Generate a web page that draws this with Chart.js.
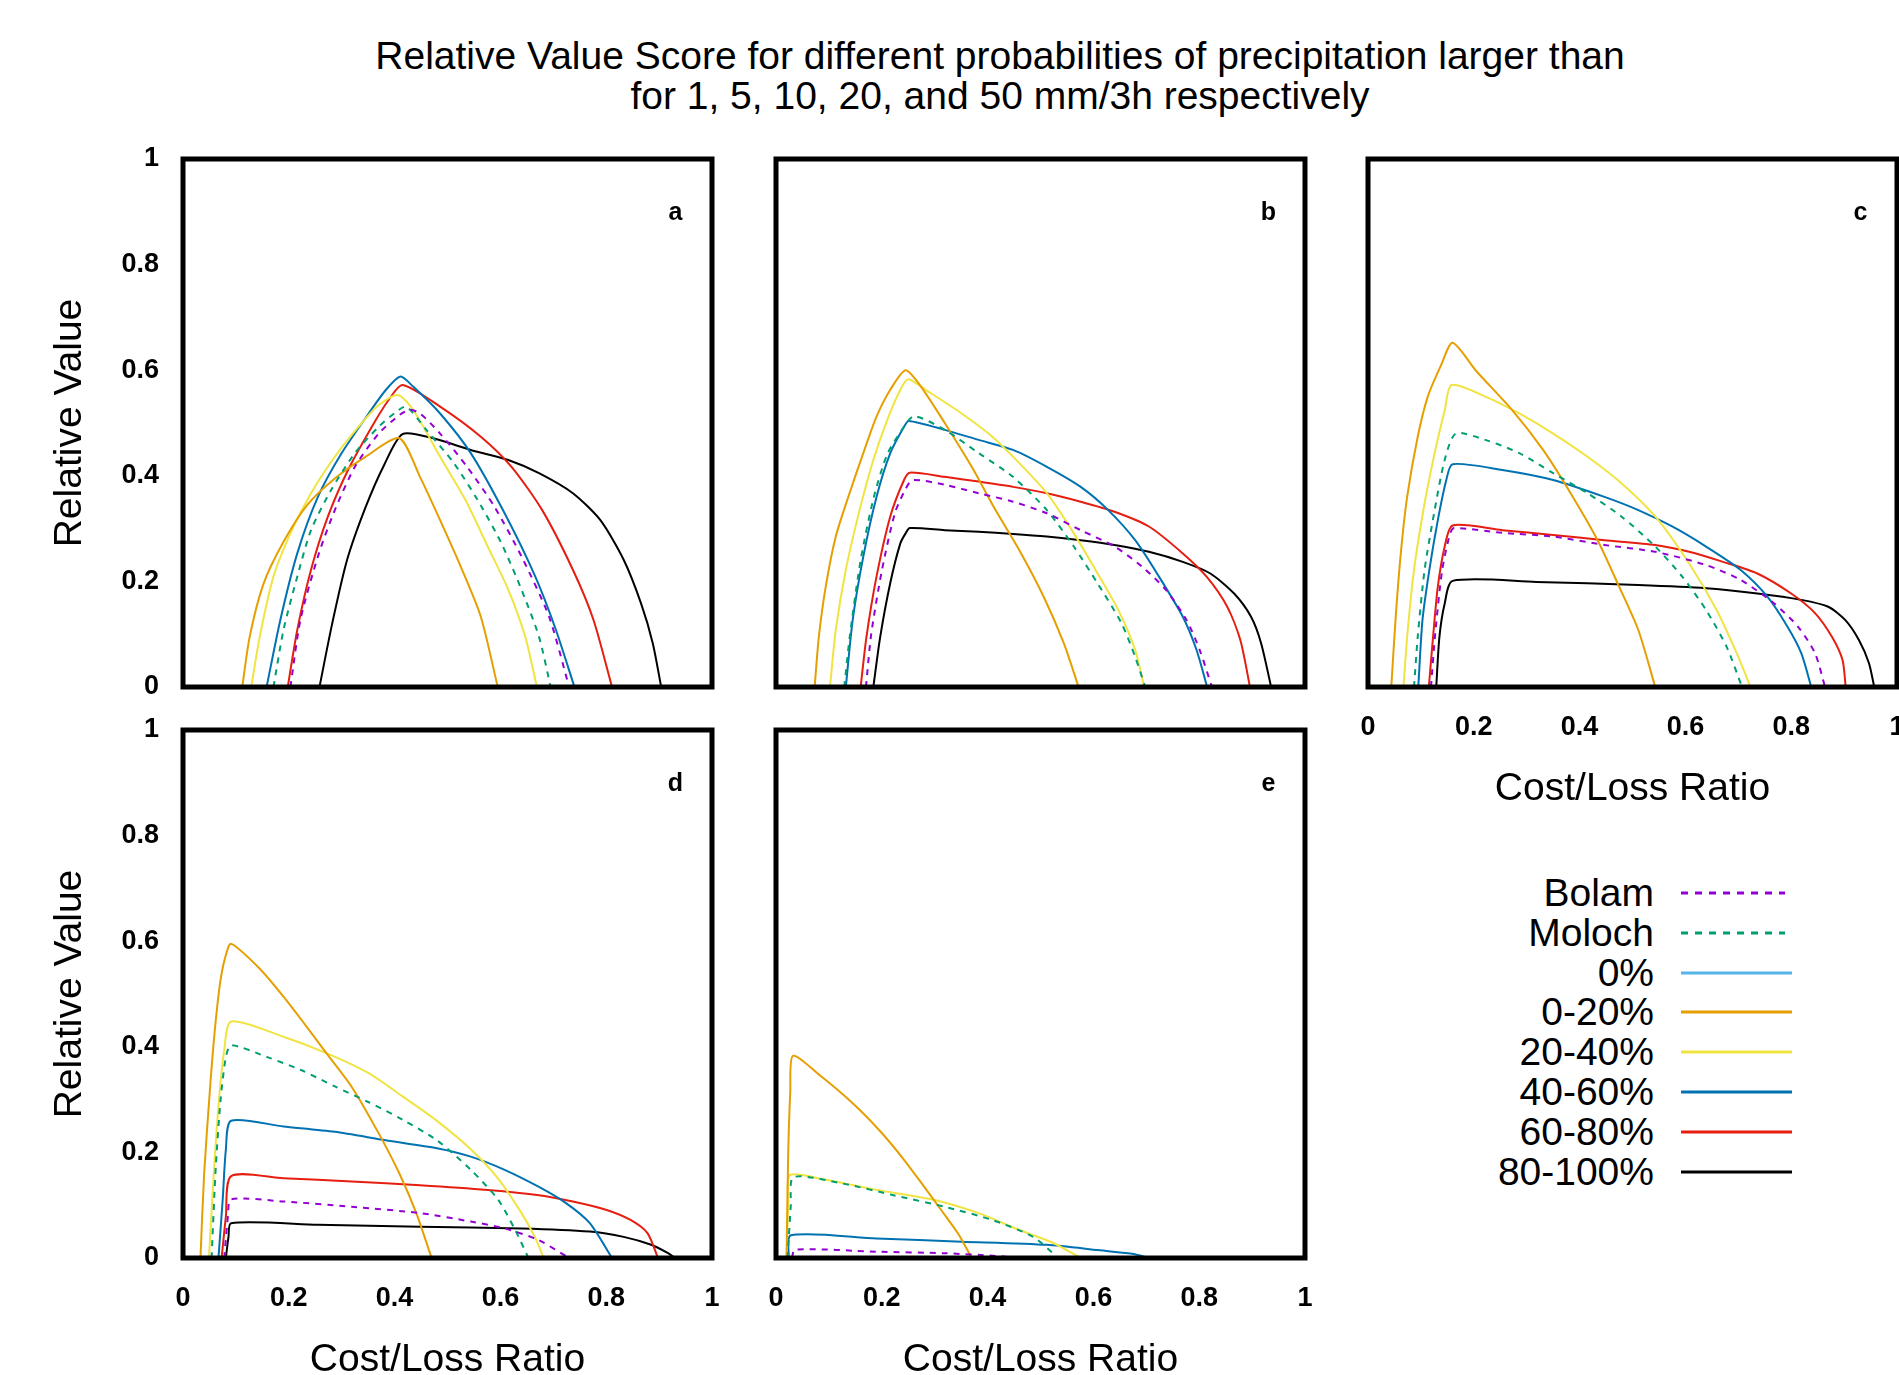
<!DOCTYPE html>
<html>
<head>
<meta charset="utf-8">
<script src="https://cdn.jsdelivr.net/npm/chart.js@4"></script>
<style>
  html, body { margin: 0; padding: 0; background: #fff; }
  body {
    width: 1899px; height: 1375px; overflow: hidden; position: relative;
    font-family: "Liberation Sans", Arial, Helvetica, sans-serif; color: #000;
  }
  #title {
    position: absolute; left: 300px; width: 1400px; top: 36px;
    text-align: center; font-size: 39px; line-height: 40px;
  }
  .legText {
    position: absolute; width: 300px; height: 40px; line-height: 40px;
    text-align: right; font-size: 39px; white-space: nowrap;
  }
  canvas { position: absolute; }
</style>
</head>
<body>
<div id="title">Relative Value Score for different probabilities of precipitation larger than<br>for 1, 5, 10, 20, and 50 mm/3h respectively</div>
<script>
// series (same in every panel)
const seriesKeys = ["bolam", "moloch", "p0", "p0_20", "p20_40", "p40_60", "p60_80", "p80_100"];
const seriesNames = ["Bolam", "Moloch", "0%", "0-20%", "20-40%", "40-60%", "60-80%", "80-100%"];
const seriesColors = ["#9400d3", "#009e73", "#56b4e9", "#e69f00", "#f0e442", "#0072b2", "#e51e10", "#000000"];
const seriesDashed = [true, true, false, false, false, false, false, false];

const tickValues = [0, 0.2, 0.4, 0.6, 0.8, 1];
const panelLetters = ["a", "b", "c", "d", "e"];

// values: [cost/loss ratio, relative value]
// panel a (1 mm/3h)
const a_bolam = [[0.203,0],[0.222,0.127],[0.255,0.247],[0.287,0.335],[0.325,0.417],[0.370,0.480],[0.409,0.515],[0.428,0.525],[0.448,0.518],[0.486,0.480],[0.537,0.417],[0.589,0.341],[0.640,0.247],[0.692,0.133],[0.730,0]];
const a_moloch = [[0.171,0],[0.190,0.108],[0.216,0.209],[0.242,0.297],[0.280,0.373],[0.325,0.443],[0.370,0.493],[0.403,0.521],[0.422,0.531],[0.460,0.487],[0.512,0.424],[0.557,0.354],[0.602,0.272],[0.640,0.184],[0.673,0.095],[0.695,0]];
const a_p0 = [];
const a_p0_20 = [[0.112,0],[0.126,0.095],[0.152,0.195],[0.190,0.275],[0.235,0.345],[0.287,0.395],[0.345,0.436],[0.409,0.471],[0.448,0.398],[0.486,0.316],[0.525,0.228],[0.563,0.133],[0.595,0]];
const a_p20_40 = [[0.129,0],[0.145,0.095],[0.171,0.209],[0.203,0.291],[0.242,0.367],[0.287,0.436],[0.332,0.493],[0.370,0.534],[0.406,0.553],[0.435,0.525],[0.486,0.436],[0.534,0.354],[0.576,0.266],[0.615,0.184],[0.647,0.095],[0.669,0]];
const a_p40_60 = [[0.158,0],[0.184,0.127],[0.216,0.253],[0.255,0.360],[0.300,0.443],[0.351,0.518],[0.383,0.562],[0.411,0.588],[0.435,0.569],[0.486,0.518],[0.544,0.443],[0.608,0.329],[0.666,0.209],[0.705,0.108],[0.740,0]];
const a_p60_80 = [[0.198,0],[0.216,0.108],[0.242,0.222],[0.274,0.323],[0.312,0.411],[0.357,0.493],[0.389,0.544],[0.415,0.572],[0.486,0.531],[0.563,0.474],[0.621,0.417],[0.679,0.335],[0.737,0.222],[0.776,0.127],[0.811,0]];
const a_p80_100 = [[0.258,0],[0.282,0.120],[0.310,0.240],[0.345,0.340],[0.380,0.420],[0.415,0.479],[0.473,0.471],[0.544,0.449],[0.615,0.430],[0.673,0.405],[0.737,0.367],[0.789,0.316],[0.833,0.241],[0.866,0.158],[0.888,0.083],[0.904,0]];

// panel b (5 mm/3h)
const b_bolam = [[0.170,0],[0.180,0.100],[0.200,0.220],[0.225,0.330],[0.245,0.375],[0.258,0.392],[0.319,0.383],[0.383,0.367],[0.448,0.351],[0.512,0.329],[0.576,0.297],[0.640,0.266],[0.692,0.228],[0.737,0.184],[0.776,0.127],[0.801,0.070],[0.824,0]];
const b_moloch = [[0.129,0],[0.140,0.100],[0.160,0.240],[0.185,0.360],[0.210,0.440],[0.240,0.490],[0.261,0.513],[0.319,0.487],[0.383,0.443],[0.448,0.398],[0.512,0.335],[0.563,0.266],[0.608,0.196],[0.653,0.121],[0.679,0.057],[0.698,0]];
const b_p0 = [];
const b_p0_20 = [[0.073,0],[0.081,0.095],[0.094,0.190],[0.113,0.285],[0.139,0.367],[0.165,0.443],[0.190,0.512],[0.216,0.563],[0.245,0.600],[0.274,0.569],[0.319,0.500],[0.370,0.417],[0.415,0.335],[0.460,0.259],[0.506,0.171],[0.544,0.083],[0.572,0]];
const b_p20_40 = [[0.102,0],[0.113,0.108],[0.132,0.222],[0.158,0.335],[0.184,0.430],[0.210,0.505],[0.235,0.563],[0.250,0.583],[0.287,0.560],[0.351,0.518],[0.409,0.474],[0.460,0.424],[0.512,0.367],[0.563,0.291],[0.608,0.215],[0.647,0.146],[0.679,0.070],[0.696,0]];
const b_p40_60 = [[0.132,0],[0.145,0.127],[0.165,0.247],[0.190,0.360],[0.216,0.443],[0.242,0.493],[0.251,0.504],[0.319,0.487],[0.383,0.468],[0.448,0.449],[0.512,0.417],[0.576,0.379],[0.628,0.335],[0.679,0.278],[0.724,0.209],[0.769,0.133],[0.795,0.070],[0.815,0]];
const b_p60_80 = [[0.160,0],[0.171,0.095],[0.190,0.209],[0.216,0.323],[0.242,0.392],[0.253,0.406],[0.319,0.398],[0.383,0.389],[0.448,0.379],[0.512,0.367],[0.576,0.351],[0.640,0.332],[0.705,0.304],[0.769,0.253],[0.814,0.209],[0.853,0.152],[0.878,0.088],[0.896,0]];
const b_p80_100 = [[0.184,0],[0.197,0.095],[0.216,0.197],[0.235,0.272],[0.245,0.291],[0.253,0.301],[0.319,0.297],[0.383,0.294],[0.448,0.290],[0.512,0.285],[0.576,0.278],[0.640,0.269],[0.705,0.256],[0.769,0.237],[0.821,0.215],[0.866,0.177],[0.898,0.133],[0.917,0.083],[0.936,0]];

// panel c (10 mm/3h)
const c_bolam = [[0.119,0],[0.127,0.100],[0.140,0.220],[0.155,0.290],[0.163,0.301],[0.254,0.292],[0.350,0.285],[0.447,0.269],[0.543,0.256],[0.639,0.231],[0.704,0.203],[0.768,0.158],[0.813,0.114],[0.845,0.064],[0.864,0]];
const c_moloch = [[0.087,0],[0.094,0.095],[0.107,0.222],[0.126,0.335],[0.145,0.430],[0.166,0.480],[0.222,0.468],[0.286,0.443],[0.350,0.405],[0.415,0.367],[0.479,0.323],[0.543,0.266],[0.594,0.209],[0.639,0.146],[0.678,0.076],[0.707,0]];
const c_p0 = [];
const c_p0_20 = [[0.044,0],[0.052,0.127],[0.062,0.253],[0.074,0.360],[0.094,0.474],[0.113,0.550],[0.138,0.609],[0.160,0.652],[0.205,0.598],[0.273,0.524],[0.331,0.449],[0.383,0.367],[0.434,0.278],[0.472,0.196],[0.511,0.108],[0.543,0]];
const c_p20_40 = [[0.067,0],[0.074,0.095],[0.087,0.222],[0.107,0.348],[0.126,0.443],[0.145,0.524],[0.158,0.572],[0.222,0.550],[0.286,0.518],[0.350,0.480],[0.415,0.436],[0.479,0.386],[0.543,0.323],[0.607,0.234],[0.659,0.146],[0.697,0.064],[0.723,0]];
const c_p40_60 = [[0.095,0],[0.103,0.127],[0.116,0.222],[0.132,0.316],[0.148,0.392],[0.160,0.422],[0.254,0.411],[0.350,0.392],[0.447,0.360],[0.511,0.335],[0.575,0.304],[0.639,0.266],[0.704,0.222],[0.755,0.171],[0.793,0.114],[0.819,0.064],[0.838,0]];
const c_p60_80 = [[0.115,0],[0.123,0.095],[0.132,0.190],[0.145,0.266],[0.160,0.306],[0.254,0.297],[0.350,0.288],[0.447,0.278],[0.543,0.269],[0.607,0.256],[0.671,0.237],[0.736,0.215],[0.800,0.177],[0.845,0.140],[0.877,0.095],[0.897,0.051],[0.903,0]];
const c_p80_100 = [[0.129,0],[0.135,0.095],[0.145,0.158],[0.160,0.201],[0.318,0.199],[0.511,0.193],[0.639,0.187],[0.736,0.177],[0.819,0.165],[0.870,0.152],[0.902,0.127],[0.928,0.089],[0.947,0.045],[0.957,0]];

// panel d (20 mm/3h)
const d_bolam = [[0.078,0],[0.085,0.080],[0.091,0.111],[0.190,0.107],[0.319,0.097],[0.448,0.085],[0.544,0.069],[0.608,0.056],[0.672,0.034],[0.730,0]];
const d_moloch = [[0.054,0],[0.062,0.173],[0.071,0.299],[0.081,0.380],[0.091,0.403],[0.158,0.381],[0.223,0.356],[0.287,0.325],[0.351,0.295],[0.415,0.262],[0.480,0.223],[0.544,0.167],[0.596,0.110],[0.628,0.053],[0.653,0]];
const d_p0 = [];
const d_p0_20 = [[0.033,0],[0.040,0.160],[0.051,0.320],[0.060,0.430],[0.070,0.520],[0.080,0.570],[0.091,0.595],[0.146,0.547],[0.190,0.495],[0.230,0.443],[0.271,0.388],[0.319,0.324],[0.370,0.236],[0.409,0.160],[0.441,0.085],[0.470,0]];
const d_p20_40 = [[0.049,0],[0.059,0.173],[0.068,0.299],[0.078,0.394],[0.091,0.448],[0.190,0.419],[0.271,0.388],[0.351,0.350],[0.415,0.306],[0.477,0.262],[0.544,0.206],[0.596,0.150],[0.640,0.085],[0.665,0.040],[0.682,0]];
const d_p40_60 = [[0.067,0],[0.075,0.110],[0.081,0.205],[0.091,0.260],[0.190,0.249],[0.287,0.239],[0.383,0.223],[0.480,0.208],[0.544,0.192],[0.608,0.167],[0.672,0.135],[0.724,0.104],[0.769,0.066],[0.811,0]];
const d_p60_80 = [[0.073,0],[0.081,0.078],[0.091,0.155],[0.190,0.151],[0.319,0.145],[0.448,0.138],[0.576,0.129],[0.673,0.119],[0.737,0.107],[0.801,0.091],[0.846,0.072],[0.878,0.047],[0.898,0]];
const d_p80_100 = [[0.081,0],[0.086,0.040],[0.091,0.066],[0.255,0.063],[0.448,0.059],[0.640,0.056],[0.769,0.050],[0.833,0.040],[0.885,0.025],[0.917,0.009],[0.930,0]];

// panel e (50 mm/3h)
const e_bolam = [[0.030,0],[0.036,0.016],[0.190,0.012],[0.319,0.009],[0.415,0.004],[0.460,0]];
const e_moloch = [[0.022,0],[0.028,0.100],[0.033,0.153],[0.126,0.141],[0.222,0.119],[0.319,0.097],[0.409,0.072],[0.486,0.040],[0.534,0]];
const e_p0 = [];
const e_p0_20 = [[0.020,0],[0.023,0.195],[0.027,0.315],[0.032,0.383],[0.084,0.345],[0.145,0.293],[0.197,0.240],[0.242,0.186],[0.280,0.135],[0.313,0.090],[0.345,0.045],[0.370,0]];
const e_p20_40 = [[0.020,0],[0.023,0.100],[0.026,0.157],[0.094,0.148],[0.190,0.129],[0.300,0.110],[0.383,0.085],[0.460,0.053],[0.525,0.028],[0.576,0]];
const e_p40_60 = [[0.024,0],[0.028,0.043],[0.190,0.037],[0.351,0.031],[0.512,0.025],[0.609,0.015],[0.673,0.008],[0.705,0]];
const e_p60_80 = [];
const e_p80_100 = [];

const panelData = [
  {bolam: a_bolam, moloch: a_moloch, p0: a_p0, p0_20: a_p0_20, p20_40: a_p20_40, p40_60: a_p40_60, p60_80: a_p60_80, p80_100: a_p80_100},
  {bolam: b_bolam, moloch: b_moloch, p0: b_p0, p0_20: b_p0_20, p20_40: b_p20_40, p40_60: b_p40_60, p60_80: b_p60_80, p80_100: b_p80_100},
  {bolam: c_bolam, moloch: c_moloch, p0: c_p0, p0_20: c_p0_20, p20_40: c_p20_40, p40_60: c_p40_60, p60_80: c_p60_80, p80_100: c_p80_100},
  {bolam: d_bolam, moloch: d_moloch, p0: d_p0, p0_20: d_p0_20, p20_40: d_p20_40, p40_60: d_p40_60, p60_80: d_p60_80, p80_100: d_p80_100},
  {bolam: e_bolam, moloch: e_moloch, p0: e_p0, p0_20: e_p0_20, p20_40: e_p20_40, p40_60: e_p40_60, p60_80: e_p60_80, p80_100: e_p80_100},
];

// layout (page pixels)
const FONT = '"Liberation Sans", Arial, Helvetica, sans-serif';
const BOX_W = 529, BOX_H = 528;
// top/right padding must be larger than what the tick labels ask for
const AX_W = 150, AX_H = 140, PAD_T = 50, PAD_R = 45;
const CW = AX_W + BOX_W + PAD_R, CH = PAD_T + BOX_H + AX_H;
const boxes = [
  {left: 183, top: 159, yLab: true, xLab: false},
  {left: 776, top: 159, yLab: false, xLab: false},
  {left: 1368, top: 159, yLab: false, xLab: true},
  {left: 183, top: 730, yLab: true, xLab: true},
  {left: 776, top: 730, yLab: false, xLab: true},
];

Chart.defaults.color = "#000";

// frame round the plot area and the panel letter
const framePlugin = {
  id: "frame",
  afterDatasetsDraw(chart, args, opts) {
    const {ctx, chartArea: a, scales} = chart;
    ctx.save();
    ctx.lineWidth = 5;
    ctx.strokeStyle = "#000";
    ctx.strokeRect(a.left, a.top, a.right - a.left, a.bottom - a.top);
    ctx.fillStyle = "#000";
    ctx.font = "bold 25px " + FONT;
    ctx.textAlign = "center";
    ctx.textBaseline = "middle";
    ctx.fillText(opts.letter, scales.x.getPixelForValue(0.931), scales.y.getPixelForValue(0.898));
    ctx.restore();
  }
};

function makeDatasets(set) {
  return seriesKeys.map((k, i) => ({
    label: seriesNames[i],
    data: set[k].map(p => ({x: p[0], y: p[1]})),
    borderColor: seriesColors[i],
    backgroundColor: seriesColors[i],
    borderWidth: 2,
    borderDash: seriesDashed[i] ? [6, 6] : [],
    pointRadius: 0,
    tension: 0.25,
    fill: false,
  }));
}

const tickFont = {family: FONT, size: 27, weight: "bold"};
const titleFont = {family: FONT, size: 39};
const fmt = v => String(+Number(v).toFixed(1));

boxes.forEach((b, i) => {
  const cv = document.createElement("canvas");
  cv.width = CW;
  cv.height = CH;
  cv.style.left = (b.left - AX_W) + "px";
  cv.style.top = (b.top - PAD_T) + "px";
  cv.style.width = CW + "px";
  cv.style.height = CH + "px";
  document.body.appendChild(cv);

  new Chart(cv, {
    type: "line",
    data: {datasets: makeDatasets(panelData[i])},
    plugins: [framePlugin],
    options: {
      responsive: false,
      animation: false,
      devicePixelRatio: 1,
      layout: {padding: {top: PAD_T, right: PAD_R, left: 0, bottom: 0}},
      plugins: {
        legend: {display: false},
        tooltip: {enabled: false},
        frame: {letter: panelLetters[i]},
      },
      scales: {
        x: {
          type: "linear", position: "bottom", min: 0, max: 1,
          afterBuildTicks: s => { s.ticks = tickValues.map(v => ({value: v})); },
          afterFit: s => { s.height = AX_H; },
          grid: {display: false, drawTicks: false},
          border: {display: false},
          ticks: {display: b.xLab, padding: 24, font: tickFont, maxRotation: 0, autoSkip: false, callback: fmt},
          title: {display: b.xLab, text: "Cost/Loss Ratio", font: titleFont, padding: {top: 0, bottom: 14}},
        },
        y: {
          type: "linear", position: "left", min: 0, max: 1,
          afterBuildTicks: s => { s.ticks = tickValues.map(v => ({value: v})); },
          afterFit: s => { s.width = AX_W; },
          grid: {display: false, drawTicks: false},
          border: {display: false},
          ticks: {display: b.yLab, padding: 24, font: tickFont, autoSkip: false, callback: fmt},
          title: {display: b.yLab, text: "Relative Value", font: titleFont, padding: {top: 14, bottom: 0}},
        },
      },
    },
  });
});

// legend: name on the left, line sample on the right
const LEG_RIGHT = 1654, LEG_Y0 = 893, LEG_DY = 39.8, LINE_X0 = 1681, LINE_X1 = 1792;
const svgNS = "http://www.w3.org/2000/svg";
seriesNames.forEach((name, i) => {
  const y = LEG_Y0 + i * LEG_DY;
  const t = document.createElement("div");
  t.className = "legText";
  t.textContent = name;
  t.style.left = (LEG_RIGHT - 300) + "px";
  t.style.top = (y - 20) + "px";
  document.body.appendChild(t);

  const svg = document.createElementNS(svgNS, "svg");
  svg.setAttribute("width", 130);
  svg.setAttribute("height", 10);
  svg.style.position = "absolute";
  svg.style.left = LINE_X0 + "px";
  svg.style.top = (y - 5) + "px";
  const ln = document.createElementNS(svgNS, "line");
  ln.setAttribute("x1", 0);
  ln.setAttribute("x2", seriesDashed[i] ? LINE_X1 - LINE_X0 - 7 : LINE_X1 - LINE_X0);
  ln.setAttribute("y1", 5);
  ln.setAttribute("y2", 5);
  ln.setAttribute("stroke", seriesColors[i]);
  ln.setAttribute("stroke-width", 3);
  if (seriesDashed[i]) ln.setAttribute("stroke-dasharray", "7 7");
  svg.appendChild(ln);
  document.body.appendChild(svg);
});
</script>
</body>
</html>
